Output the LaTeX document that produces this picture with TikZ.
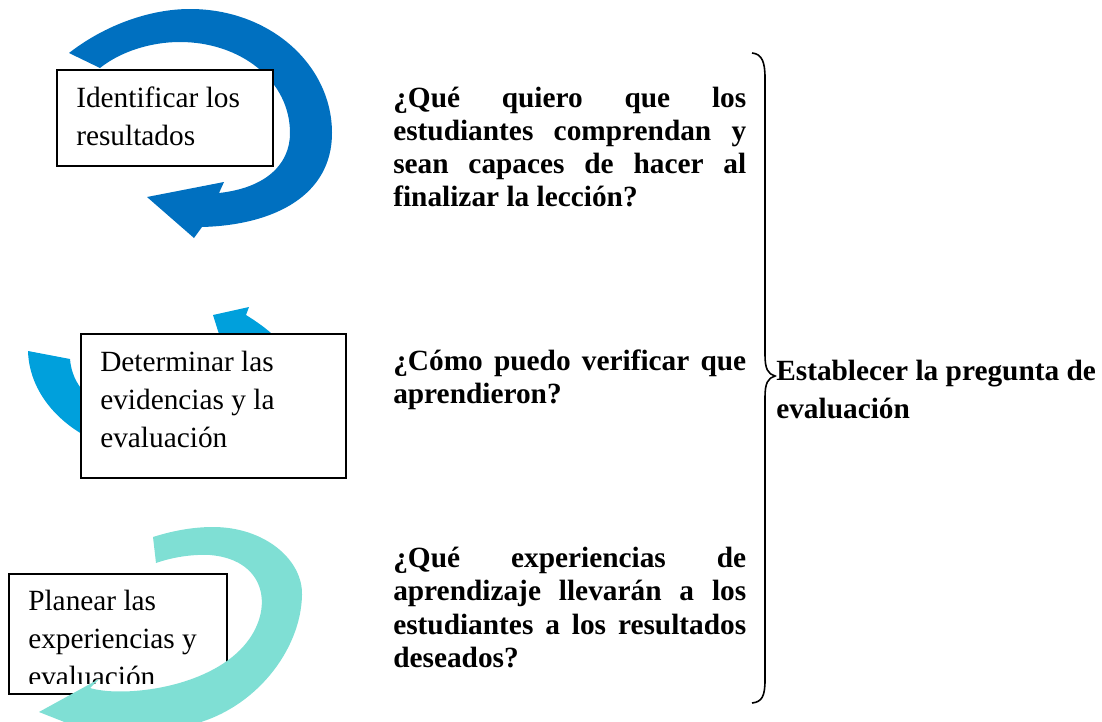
\documentclass[tikz,border=0pt]{standalone}
\usepackage{fontspec}
\setmainfont{Liberation Serif}
\definecolor{arrA}{HTML}{0070C0}
\definecolor{arrB}{HTML}{00A0DC}
\definecolor{arrC}{HTML}{7FDFD4}
\begin{document}
\begin{tikzpicture}[x=0.75pt,y=-0.75pt,
  boxtext/.style={anchor=base west, inner sep=0pt, font=\fontsize{22}{28.5}\selectfont},
  qtext/.style={anchor=base west, inner sep=0pt, font=\fontsize{22}{24.75}\selectfont\bfseries},
  frame/.style={draw=black, line width=1.5pt, fill=white, anchor=north west, inner sep=0pt},
  brace/.style={draw=black, line width=1.2pt},
]
\useasboundingbox (0,0) rectangle (1102,721);
\clip (0,0) rectangle (1102,721);

% ---- arrow 1 (behind box 1)
\fill[arrA] (69,53) .. controls (105,25) and (150,9) .. (190,9)
  .. controls (270,9) and (332,65) .. (332,133)
  .. controls (332,195) and (275,225) .. (202,227)
  -- (194,238) -- (147,197) -- (224,182) -- (219,193)
  .. controls (265,188) and (290,165) .. (290,133)
  .. controls (290,80) and (240,42) .. (180,42)
  .. controls (150,42) and (120,52) .. (100,68) -- cycle;
\node[frame, minimum width=162pt, minimum height=72pt] (b1) at (56,69) {};
\node[boxtext] (t1a) at (76,107) {Identificar los};
\node[boxtext] (t1b) at (76,145) {resultados};

% ---- arrow 2 (behind box 2)
\fill[arrB] (28,351) .. controls (29,385) and (50,415) .. (82,434)
  .. controls (150,475) and (310,450) .. (300,390)
  .. controls (300,355) and (275,333) .. (246,315)
  -- (249,307) -- (213,315) -- (224,350) -- (140,400) -- (84,392)
  .. controls (76,383) and (71,372) .. (70,359) -- cycle;
\node[frame, minimum width=198.75pt, minimum height=108pt] (b2) at (80,333) {};
\node[boxtext] (t2a) at (100,371) {Determinar las};
\node[boxtext] (t2b) at (100,409) {evidencias y la};
\node[boxtext] (t2c) at (100,447) {evaluación};

% ---- box 3 (arrow 3 on top)
\node[frame, minimum width=163.5pt, minimum height=90pt] (b3) at (8,573) {};
\begin{scope}
\clip (10,575) rectangle (224,683);
\node[boxtext] (t3a) at (28,610) {Planear las};
\node[boxtext] (t3b) at (28,648) {experiencias y};
\node[boxtext] (t3c) at (28,686) {evaluación};
\end{scope}
\fill[arrC] (153,537) .. controls (175,530) and (195,527) .. (213,527)
  .. controls (265,527) and (303,560) .. (302,595)
  .. controls (301,650) and (255,710) .. (190,725)
  -- (110,740) -- (39,712) -- (99,679) -- (90,688)
  .. controls (120,697) and (200,690) .. (240,650)
  .. controls (275,615) and (270,560) .. (210,555)
  .. controls (190,554) and (170,558) .. (156,563) -- cycle;

% ---- questions
\node[qtext] (q1a) at (393,107) {\makebox[264.75pt][s]{¿Qué quiero que los}};
\node[qtext] (q1b) at (393,140) {\makebox[264.75pt][s]{estudiantes comprendan y}};
\node[qtext] (q1c) at (393,173) {\makebox[264.75pt][s]{sean capaces de hacer al}};
\node[qtext] (q1d) at (393,206) {finalizar la lección?};

\node[qtext] (q2a) at (393,370) {\makebox[264.75pt][s]{¿Cómo puedo verificar que}};
\node[qtext] (q2b) at (393,403) {aprendieron?};

\node[qtext] (q3a) at (393,567) {\makebox[264.75pt][s]{¿Qué experiencias de}};
\node[qtext] (q3b) at (393,600) {\makebox[264.75pt][s]{aprendizaje llevarán a los}};
\node[qtext] (q3c) at (393,634) {\makebox[264.75pt][s]{estudiantes a los resultados}};
\node[qtext] (q3d) at (393,667) {deseados?};

% ---- brace
\draw[brace] (752,53) .. controls (762,54) and (765,62) .. (765,78)
  -- (765,355) .. controls (765,369) and (768,374) .. (775,376)
  .. controls (768,378) and (765,383) .. (765,397)
  -- (765,680) .. controls (765,696) and (762,702) .. (752,703);

\node[qtext] (e1) at (776,380) {Establecer la pregunta de};
\node[qtext] (e2) at (776,418) {evaluación};
\end{tikzpicture}
\end{document}
